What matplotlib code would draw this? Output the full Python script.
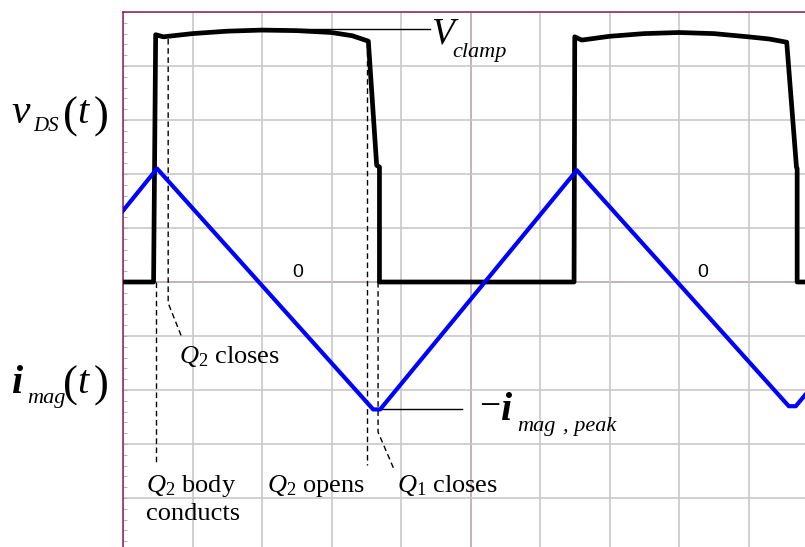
import matplotlib
matplotlib.use('Agg')
import matplotlib.pyplot as plt
from matplotlib.ticker import MultipleLocator

plt.rcParams['mathtext.fontset'] = 'custom'
plt.rcParams['mathtext.rm'] = 'Liberation Serif'
plt.rcParams['mathtext.it'] = 'Liberation Serif:italic'
plt.rcParams['mathtext.bf'] = 'Liberation Serif:bold'

# waveforms in grid divisions (t across, amplitude up)
vds_t = [0, 0.44, 0.47, 0.58, 1.0, 1.5, 2.0, 2.5, 3.0, 3.3, 3.53,
         3.65, 3.69, 3.69,
         6.49, 6.50, 6.60, 7.0, 7.5, 8.0, 8.5, 9.0, 9.3, 9.55,
         9.69, 9.70, 9.70, 9.9]
vds_v = [0, 0, 4.58, 4.54, 4.60, 4.645, 4.665, 4.655, 4.62, 4.56, 4.46,
         2.16, 2.13, 0,
         0, 4.54, 4.48, 4.55, 4.60, 4.62, 4.60, 4.54, 4.50, 4.44,
         2.13, 2.10, 0, 0]

imag_t = [0, 0.49, 3.60, 3.70, 6.53, 9.58, 9.68, 9.9]
imag_v = [1.32, 2.10, -2.36, -2.36, 2.07, -2.30, -2.30, -1.96]

zero_t = [2.51, 8.34]

# leader lines for the switching events
body_t, body_y = [0.48, 0.48], [0, -3.37]
q2close_t, q2close_y = [0.65, 0.65, 0.845], [4.5, -0.39, -1.02]
q2open_t, q2open_y = [3.51, 3.51], [4.44, -3.39]
q1close_t, q1close_y = [3.67, 3.67, 3.89], [0, -2.78, -3.44]
clamp_t, clamp_y = [2.55, 4.42], [4.69, 4.69]
peak_t, peak_y = [3.67, 4.88], [-2.36, -2.36]

W, H = 805, 547
purple = '#8b1c5a'

fig = plt.figure(figsize=(W / 100, H / 100), dpi=100)
ax = fig.add_axes([123 / W, 0, (W - 123) / W, (H - 12) / H])
ax.set_xlim(0, (W - 123) / 69.5)
ax.set_ylim(-(H - 12) / 54 + 5, 5)

ax.set_xticks(range(0, 10))
ax.set_yticks(range(-4, 6))
ax.yaxis.set_minor_locator(MultipleLocator(0.2))
ax.grid(True, color='#c8c8c8', lw=1.2, zorder=0)
ax.tick_params(which='both', direction='in', length=3, width=0.8,
               color='#b4b4b4', labelleft=False, labelbottom=False)
ax.tick_params(axis='x', length=0)
for s in ['right', 'bottom']:
    ax.spines[s].set_visible(False)
for s in ['top', 'left']:
    ax.spines[s].set_color(purple)
    ax.spines[s].set_linewidth(1.1)
ax.axhline(0, color=purple, lw=1.1, zorder=1)
ax.axvline(5, color=purple, lw=1.1, zorder=1)

ax.plot(vds_t, vds_v, color='black', lw=3.4, zorder=3,
        solid_joinstyle='round')
ax.plot(imag_t, imag_v, color='#0000ff', lw=3.0, zorder=4,
        solid_joinstyle='round')

dash = dict(color='black', lw=1.0, dashes=(4, 2.6), zorder=2)
ax.plot(body_t, body_y, **dash)
ax.plot(q2close_t, q2close_y, **dash)
ax.plot(q2open_t, q2open_y, **dash)
ax.plot(q1close_t, q1close_y, **dash)
ax.plot(clamp_t, clamp_y, color='black', lw=1.0, zorder=2)
ax.plot(peak_t, peak_y, color='black', lw=1.0, zorder=2)

for t in zero_t:
    ax.text(t, 0.09, '0', fontsize=14, family='Liberation Sans',
            ha='center', va='baseline', zorder=5)


def put(x, y, s, size, style='normal', weight='normal'):
    fig.text(x / W, 1 - y / H, s, fontsize=size, style=style,
             weight=weight, family='Liberation Serif',
             ha='left', va='baseline')


# v_DS(t)
put(11, 123, 'v', 30, 'italic')
put(33, 131, 'DS', 15, 'italic')
put(63, 128, '(', 32)
put(77, 123, 't', 29, 'italic')
put(94, 128, ')', 32)

# i_mag(t)
put(12, 393, 'i', 29, 'italic', 'bold')
put(27, 403, 'mag', 16, 'italic')
put(63, 397, '(', 32)
put(77, 393, 't', 29, 'italic')
put(94, 397, ')', 32)

# V_clamp
put(431, 43, 'V', 27, 'italic')
put(452, 57, 'clamp', 16, 'italic')

# -i_mag,peak
put(479, 417, '\u2212', 27)
put(501, 420, 'i', 29, 'italic', 'bold')
put(517, 431, 'mag', 16, 'italic')
put(563, 431, ', peak', 16, 'italic')

put(179, 363, r'$Q_2$ closes', 19)
put(146, 492, r'$Q_2$ body', 19)
put(146, 520, 'conducts', 19)
put(267, 492, r'$Q_2$ opens', 19)
put(397, 492, r'$Q_1$ closes', 19)

fig.savefig('out.png', dpi=100)
